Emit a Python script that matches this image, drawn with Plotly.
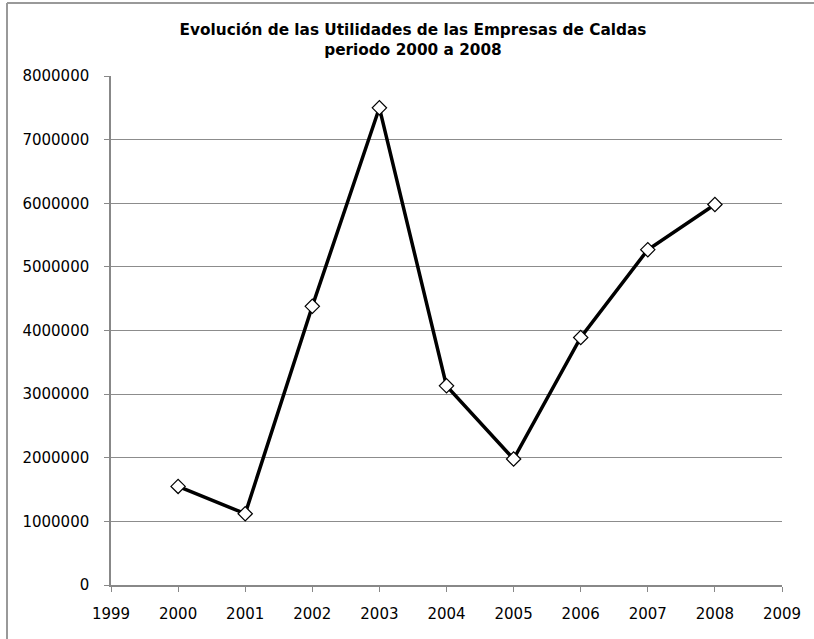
import plotly.graph_objects as go

years = [2000, 2001, 2002, 2003, 2004, 2005, 2006, 2007, 2008]
utilidades = [1550000, 1120000, 4380000, 7500000, 3130000, 1980000, 3890000, 5270000, 5980000]
y_ticks = [0, 1000000, 2000000, 3000000, 4000000, 5000000, 6000000, 7000000, 8000000]
x_ticks = list(range(1999, 2010))
title_text = "Evolución de las Utilidades de las Empresas de Caldas<br>periodo 2000 a 2008"

fig = go.Figure()
fig.add_trace(go.Scatter(
    x=years, y=utilidades, mode="lines+markers",
    line=dict(color="black", width=3.5),
    marker=dict(symbol="diamond", size=11, color="white", line=dict(color="black", width=1.2)),
    showlegend=False,
))

axis_font = dict(family="DejaVu Sans", size=15, color="black")
fig.update_layout(
    width=814, height=639,
    margin=dict(l=111, r=32, t=76, b=54),
    paper_bgcolor="white", plot_bgcolor="white",
    title=dict(text=title_text, x=413/814, xanchor="center", xref="container",
               y=1-35/639, yanchor="middle", yref="container",
               font=dict(family="DejaVu Sans", size=15.3, color="black", weight="bold")),
    xaxis=dict(range=[1999, 2009], tickvals=x_ticks, ticktext=[str(v) for v in x_ticks],
               showgrid=False, zeroline=False, showline=True, linecolor="#888888", linewidth=1.5,
               ticks="outside", ticklen=5, tickcolor="#888888", tickwidth=1.2,
               tickfont=axis_font, ticklabelstandoff=9),
    yaxis=dict(range=[0, 8000000], tickvals=y_ticks, ticktext=[str(v) for v in y_ticks],
               showgrid=True, gridcolor="#8c8c8c", gridwidth=1.3, zeroline=False,
               showline=True, linecolor="#888888", linewidth=1.5,
               ticks="outside", ticklen=5, tickcolor="#888888", tickwidth=1.2,
               tickfont=axis_font, ticklabelstandoff=12),
    shapes=[
        dict(type="line", xref="paper", yref="paper", x0=-104/671, x1=(814-111)/671, y0=(639-54-3)/509, y1=(639-54-3)/509,
             line=dict(color="#999999", width=2)),
        dict(type="line", xref="paper", yref="paper", x0=-104/671, x1=-104/671, y0=(639-54-3)/509, y1=-60/509,
             line=dict(color="#999999", width=2)),
    ],
)
fig.write_html("out.html")
